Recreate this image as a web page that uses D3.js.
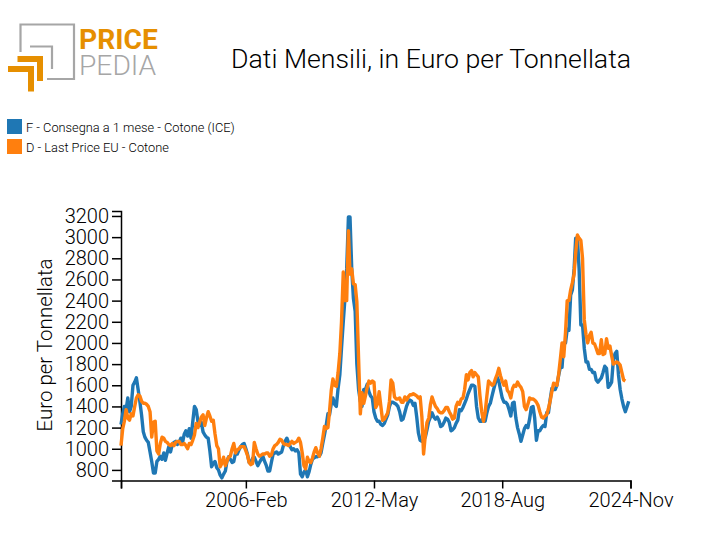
<!DOCTYPE html>
<html lang="it">
<head>
  <meta charset="UTF-8">
  <title>Dati Mensili, in Euro per Tonnellata</title>
  <script src="https://d3js.org/d3.v7.min.js"></script>
  <style>
    html, body { margin: 0; padding: 0; background: #fff; }
    svg { display: block; }
    text { font-family: Roboto, sans-serif; font-weight: 300; fill: #000; }
    .axis path, .axis line { stroke: #000; stroke-width: 1.5px; fill: none; }
    .axis text { font-size: 20px; }
    .serie { fill: none; stroke-width: 3.4px; stroke-linejoin: round; }
  </style>
</head>
<body>
  <script>
    // serie mensili, da 2000-Jan
    const startMonth = new Date(2000, 0, 1);
    const yTicks = [800, 1000, 1200, 1400, 1600, 1800, 2000, 2200, 2400, 2600, 2800, 3000, 3200];
    const xTickLabels = ['', '2006-Feb', '2012-May', '2018-Aug', '2024-Nov'];
    const xTickMonths = [0, 73, 148, 223, 298];
    const seriesNames = ['F - Consegna a 1 mese - Cotone (ICE)', 'D - Last Price EU - Cotone'];
    const seriesColors = ['#1f77b4', '#ff7f0e'];

    const futures = [
      1230,1330,1400,1370,1480,1350,1400,1600,1630,1670,
      1560,1450,1320,1160,1110,1080,1060,970,880,770,
      770,880,900,930,900,960,890,960,1020,970,
      1040,1060,1070,1040,1060,1100,1060,1140,1170,1120,
      1190,1100,1250,1400,1370,1260,1220,1250,1160,1130,
      1110,1100,980,830,860,880,820,800,750,725,
      760,790,880,925,900,870,880,960,950,
      990,1020,1040,1050,1000,950,870,860,910,920,
      880,840,870,900,930,880,840,790,790,870,
      950,960,970,950,960,970,1030,1070,1100,1060,
      1020,990,1000,980,990,960,760,735,780,800,
      735,780,850,900,915,925,925,930,960,1050,
      1130,1220,1330,1320,1420,1480,1420,1400,1570,1700,
      1950,2200,2420,2700,3190,3190,2700,2420,2300,1800,
      1560,1450,1400,1560,1560,1610,1540,1500,1480,1350,
      1290,1260,1260,1230,1220,1240,1280,1320,1400,1440,
      1440,1430,1420,1400,1350,1270,1280,1340,1400,1440,
      1460,1450,1410,1430,1300,1150,1080,1070,1090,1110,
      1180,1260,1300,1340,1300,1280,1300,1270,1210,1220,
      1250,1290,1280,1250,1170,1180,1200,1240,1270,1370,
      1360,1390,1430,1470,1520,1560,1600,1600,1590,
      1400,1290,1260,1260,1310,1260,1340,1400,1430,1500,
      1560,1620,1680,1640,1560,1480,1440,1440,1420,1370,
      1310,1430,1440,1290,1200,1140,1070,1130,1190,1220,
      1200,1280,1390,1400,1290,1080,1170,1170,1200,1220,
      1210,1340,1340,1460,1570,1560,1560,1600,1690,1770,
      1770,2000,2000,2130,2120,2450,2500,2700,2990,2990,
      2700,2170,2170,1950,1820,1820,1750,1750,1720,1720,
      1650,1630,1650,1670,1720,1780,1760,1580,1600,1630,
      1840,1900,1920,1700,1560,1470,1400,1350,1400,1450
    ];
    const lastPrice = [
      1030,1190,1260,1370,1290,1270,1330,1310,1400,1480,
      1510,1500,1450,1430,1430,1420,1400,1350,1110,1250,
      1260,980,950,1050,1110,1100,1070,1060,1040,1030,
      1050,1030,1060,1070,1070,1040,1040,1050,1030,1000,
      1050,1040,1080,1130,1240,1200,1250,1300,1320,1220,
      1290,1350,1310,1260,1270,1140,1030,1000,830,860,
      920,840,880,920,930,1000,1050,960,990,
      1000,1020,1020,1020,980,940,870,850,860,1060,
      1000,950,930,940,950,950,960,960,930,940,
      1000,1030,1040,1060,1090,1080,1050,1040,1040,1030,
      1050,1070,1050,1060,1070,1100,1060,960,840,810,
      920,880,870,910,970,1010,960,930,1000,1100,
      1210,1190,1200,1350,1550,1660,1600,1590,1720,1900,
      2200,2670,2400,2400,3060,2650,2700,2560,2550,2390,
      1850,1330,1530,1430,1500,1580,1640,1620,1640,1630,
      1390,1420,1540,1400,1270,1280,1310,1340,1450,1650,
      1620,1490,1470,1470,1480,1440,1440,1490,1460,1490,
      1510,1510,1520,1510,1500,1480,1490,1300,950,1130,
      1250,1290,1420,1490,1440,1400,1380,1350,1340,1340,
      1360,1390,1390,1350,1320,1280,1290,1400,1440,1420,
      1470,1480,1560,1700,1650,1720,1740,1680,1720,
      1700,1680,1500,1350,1260,1340,1500,1640,1620,1600,
      1610,1660,1700,1760,1690,1640,1600,1640,1550,1530,
      1480,1570,1600,1590,1630,1600,1580,1540,1400,1370,
      1420,1480,1470,1470,1460,1440,1410,1350,1300,1290,
      1310,1320,1380,1450,1540,1620,1610,1600,1700,1850,
      2000,1870,2100,2400,2400,2500,2570,2650,2850,3020,
      2990,2970,2800,2220,2080,2000,2070,2100,2000,1990,
      1950,1900,1900,2030,1890,1900,2040,1950,1970,1880,
      1800,1810,1820,1810,1790,1720,1650,1640
    ];

    const width = 712;
    const height = 555;
    const monthDate = i => d3.timeMonth.offset(startMonth, i);

    const svg = d3.select('body').append('svg')
      .attr('width', width)
      .attr('height', height);

    const x = d3.scaleTime()
      .domain([monthDate(0), monthDate(298)])
      .range([121, 630.5]);
    const y = d3.scaleLinear()
      .domain([700, 3247])
      .range([480.5, 211]);

    // logo
    const logo = svg.append('g');
    logo.append('path')
      .attr('d', 'M20.5 52V24.5H74V79H47M30 46.5H52V69')
      .attr('fill', 'none').attr('stroke', '#a6a6a6').attr('stroke-width', 2.2);
    logo.append('path')
      .attr('d', 'M17.5 59H40V81M8 69H31V91.5')
      .attr('fill', 'none').attr('stroke', '#e68f00').attr('stroke-width', 6);
    logo.append('text')
      .attr('x', 79).attr('y', 48.5)
      .style('font-size', '28.2px').style('font-weight', 700).style('fill', '#e68f00')
      .text('PRICE');
    logo.append('text')
      .attr('x', 79).attr('y', 75)
      .style('font-size', '28.2px').style('font-weight', 300).style('fill', '#a6a6a6')
      .text('PEDIA');

    // titolo
    svg.append('text')
      .attr('x', 231).attr('y', 67.5)
      .style('font-size', '26.7px')
      .text('Dati Mensili, in Euro per Tonnellata');

    // legenda
    const legend = svg.selectAll('g.legend')
      .data(seriesNames)
      .enter().append('g')
      .attr('class', 'legend')
      .attr('transform', (d, i) => `translate(7,${119 + i * 20})`);
    legend.append('rect')
      .attr('width', 15).attr('height', 15)
      .attr('fill', (d, i) => seriesColors[i]);
    legend.append('text')
      .attr('x', 19).attr('y', 12.5)
      .style('font-size', '12.8px')
      .text(d => d);

    // assi
    svg.append('g')
      .attr('class', 'axis')
      .attr('transform', 'translate(121,0)')
      .call(d3.axisLeft(y).tickValues(yTicks).tickFormat(d3.format('d')).tickSize(9).tickPadding(3));
    svg.append('g')
      .attr('class', 'axis')
      .attr('transform', 'translate(0,480.5)')
      .call(d3.axisBottom(x)
        .tickValues(xTickMonths.map(monthDate))
        .tickFormat((d, i) => xTickLabels[i])
        .tickSize(8).tickPadding(4));

    svg.append('text')
      .attr('transform', 'translate(52,345) rotate(-90)')
      .attr('text-anchor', 'middle')
      .style('font-size', '20.5px')
      .text('Euro per Tonnellata');

    // linee
    const line = d3.line()
      .x((d, i) => x(monthDate(i)))
      .y(d => y(d));
    svg.selectAll('path.serie')
      .data([futures, lastPrice])
      .enter().append('path')
      .attr('class', 'serie')
      .attr('stroke', (d, i) => seriesColors[i])
      .attr('d', line);
  </script>
</body>
</html>
